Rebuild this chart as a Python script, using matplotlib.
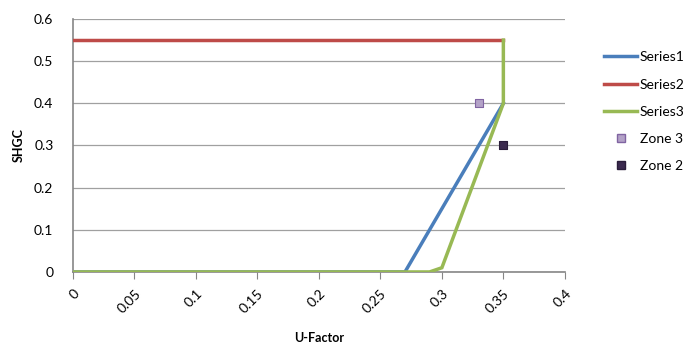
import matplotlib.pyplot as plt
from matplotlib.lines import Line2D

s1_x = [0, 0.27, 0.35]
s1_y = [0, 0, 0.4]
s2_x = [0, 0.35]
s2_y = [0.55, 0.55]
s3_x = [0, 0.29, 0.30, 0.35, 0.35]
s3_y = [0, 0, 0.01, 0.4, 0.55]
zone3 = (0.33, 0.4)
zone2 = (0.35, 0.3)
xticks = [0, 0.05, 0.1, 0.15, 0.2, 0.25, 0.3, 0.35, 0.4]
xtick_labels = ['0', '0.05', '0.1', '0.15', '0.2', '0.25', '0.3', '0.35', '0.4']
yticks = [0, 0.1, 0.2, 0.3, 0.4, 0.5, 0.6]

plt.rcParams['font.family'] = ['Lato', 'DejaVu Sans']

fig = plt.figure(figsize=(6.88, 3.46), dpi=100)
ax = fig.add_axes([0.106, 0.214, 0.715, 0.731])

blue = '#4a7ebb'
red = '#be4b48'
green = '#98b954'

ax.plot(s1_x, s1_y, color=blue, lw=2.5, solid_joinstyle='miter', zorder=3)
ax.plot(s2_x, s2_y, color=red, lw=2.5, zorder=3)
ax.plot(s3_x, s3_y, color=green, lw=2.5, solid_joinstyle='miter', zorder=4)
ax.scatter([zone3[0]], [zone3[1]], marker='s', s=40, color='#b3a2c7', edgecolor='#8064a2', linewidth=0.8, zorder=5)
ax.scatter([zone2[0]], [zone2[1]], marker='s', s=40, color='#3b2a4f', edgecolor='#2a1d3a', linewidth=0.8, zorder=5)

ax.set_xlim(0, 0.4)
ax.set_ylim(0, 0.6)
ax.set_xticks(xticks)
ax.set_xticklabels(xtick_labels, rotation=45, ha='right', rotation_mode='anchor')
ax.set_yticks(yticks)
ax.set_yticklabels(['0', '0.1', '0.2', '0.3', '0.4', '0.5', '0.6'])
ax.yaxis.grid(True, color='#a0a0a0', lw=0.9)
ax.set_axisbelow(True)

for side in ['top', 'right']:
    ax.spines[side].set_visible(False)
for side in ['left', 'bottom']:
    ax.spines[side].set_color('#868686')
    ax.spines[side].set_linewidth(1.2)
ax.tick_params(axis='x', direction='out', length=5, color='#868686', labelsize=10, pad=6)
ax.tick_params(axis='y', length=0, labelsize=10, pad=14)

ax.set_xlabel('U-Factor', fontsize=9, fontweight='bold', labelpad=12)
ax.set_ylabel('SHGC', fontsize=9, fontweight='bold', labelpad=7)

handles = [
    Line2D([], [], color=blue, lw=2.5),
    Line2D([], [], color=red, lw=2.5),
    Line2D([], [], color=green, lw=2.5),
    Line2D([], [], ls='', marker='s', ms=6, color='#b3a2c7', mec='#8064a2'),
    Line2D([], [], ls='', marker='s', ms=6, color='#3b2a4f', mec='#2a1d3a'),
]
labels = ['Series1', 'Series2', 'Series3', 'Zone 3', 'Zone 2']
fig.legend(handles, labels, loc='upper left', bbox_to_anchor=(0.868, 0.872), frameon=False,
           fontsize=10, handlelength=2.4, handletextpad=0.15, labelspacing=1.1, borderpad=0)

fig.savefig('out.png', dpi=100)
